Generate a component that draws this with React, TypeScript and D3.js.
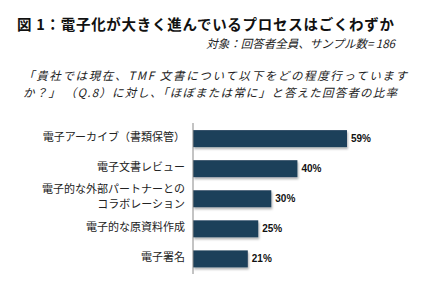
import { useEffect, useRef } from 'react';
import * as d3 from 'd3';

const categories = [
  ['電子アーカイブ（書類保管）'],
  ['電子文書レビュー'],
  ['電子的な外部パートナーとの', 'コラボレーション'],
  ['電子的な原資料作成'],
  ['電子署名'],
];
const values = [59, 40, 30, 25, 21];

const titleText = '図 1：電子化が大きく進んでいるプロセスはごくわずか';
const sampleText = '対象：回答者全員、サンプル数= 186';
const questionLines = [
  '「貴社では現在、TMF 文書について以下をどの程度行っていますか？」',
  '（Q.8）に対し、「ほぼまたは常に」と答えた回答者の比率',
];

const JP = '"Noto Sans CJK JP", sans-serif';

export default function App() {
  const svgRef = useRef<SVGSVGElement>(null);

  useEffect(() => {
    if (!svgRef.current) return;
    const width = 428;
    const height = 301;

    d3.select(svgRef.current).selectAll('*').remove();
    const svg = d3
      .select(svgRef.current)
      .attr('width', width)
      .attr('height', height)
      .attr('viewBox', `0 0 ${width} ${height}`);

    svg.append('rect').attr('width', width).attr('height', height).attr('fill', '#fff');

    // Title block
    svg
      .append('text')
      .attr('x', 17)
      .attr('y', 30)
      .attr('font-family', JP)
      .attr('font-weight', 'bold')
      .attr('font-size', '14.5px')
      .attr('fill', '#111')
      .attr('textLength', 377)
      .attr('lengthAdjust', 'spacing')
      .text(titleText);

    svg
      .append('text')
      .attr('x', 395)
      .attr('y', 48)
      .attr('text-anchor', 'end')
      .attr('font-family', JP)
      .attr('font-style', 'italic')
      .attr('font-size', '11.5px')
      .attr('fill', '#222')
      .text(sampleText);

    // question (second line starts with "か？」" carried over)
    const q1 = questionLines[0].slice(0, questionLines[0].length - 3);
    const q2 = questionLines[0].slice(-3) + ' ' + questionLines[1];
    const qWidths = [384, 374];
    [q1, q2].forEach((t, i) => {
      svg
        .append('text')
        .attr('x', 23)
        .attr('y', 80 + i * 17)
        .attr('font-family', JP)
        .attr('font-style', 'italic')
        .attr('font-size', '11.5px')
        .attr('fill', '#222')
        .attr('textLength', qWidths[i])
        .attr('lengthAdjust', 'spacing')
        .text(t);
    });

    // Scales
    const x0 = 193;
    const xScale = d3.scaleLinear().domain([0, 100]).range([x0, x0 + 261]);
    const yScale = d3
      .scaleBand<number>()
      .domain(d3.range(values.length))
      .range([123.5, 274])
      .paddingInner(0.435)
      .paddingOuter(0.22);

    const defs = svg.append('defs');
    const filter = defs
      .append('filter')
      .attr('id', 'shadow')
      .attr('x', '-5%')
      .attr('y', '-20%')
      .attr('width', '115%')
      .attr('height', '160%');
    filter
      .append('feDropShadow')
      .attr('dx', 1)
      .attr('dy', 2)
      .attr('stdDeviation', 1.2)
      .attr('flood-color', '#000')
      .attr('flood-opacity', 0.3);

    const rows = svg
      .selectAll('g.row')
      .data(values)
      .enter()
      .append('g')
      .attr('class', 'row');

    rows
      .append('rect')
      .attr('x', x0)
      .attr('y', (_, i) => yScale(i)!)
      .attr('width', (d) => xScale(d) - x0)
      .attr('height', yScale.bandwidth())
      .attr('fill', '#1f3f5a')
      .attr('filter', 'url(#shadow)');

    rows
      .append('text')
      .attr('x', (d) => xScale(d) + 4)
      .attr('y', (_, i) => yScale(i)! + yScale.bandwidth() / 2)
      .attr('dy', '0.36em')
      .attr('font-family', 'Liberation Sans, Arial, sans-serif')
      .attr('font-weight', 'bold')
      .attr('font-size', '10px')
      .attr('fill', '#111')
      .text((d) => `${d}%`);

    // Category labels
    rows.each(function (_, i) {
      const lines = categories[i];
      const cy = yScale(i)! + yScale.bandwidth() / 2 - 2;
      const lh = 15;
      lines.forEach((line, j) => {
        d3.select(this)
          .append('text')
          .attr('x', 185)
          .attr('y', cy + (j - (lines.length - 1) / 2) * lh)
          .attr('dy', '0.38em')
          .attr('text-anchor', 'end')
          .attr('font-family', JP)
          .attr('font-size', '11px')
          .attr('fill', '#222')
          .text(line);
      });
    });

    // Axis line
    svg
      .append('line')
      .attr('x1', x0)
      .attr('x2', x0)
      .attr('y1', 123)
      .attr('y2', 274)
      .attr('stroke', '#888')
      .attr('stroke-width', 1);
  }, []);

  return <svg ref={svgRef} style={{ position: 'absolute', top: 0, left: 0 }} />;
}
